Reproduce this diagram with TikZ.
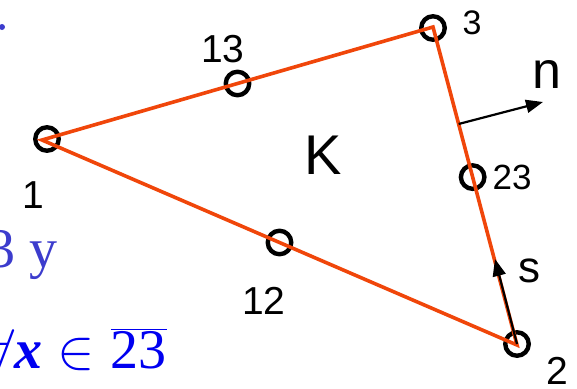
\RequirePackage{fix-cm}
\documentclass[tikz,border=0pt]{standalone}
\usepackage{fontspec}
\setmainfont{Liberation Serif}
\setsansfont{Liberation Sans}
\usetikzlibrary{arrows.meta,calc}
\definecolor{edgeorange}{RGB}{240,70,10}
\definecolor{slateblue}{RGB}{60,60,205}
\definecolor{pureblue}{RGB}{0,0,240}
\begin{document}
\begin{tikzpicture}[x=1pt,y=-1pt,
  vtx/.style={circle,draw=black,line width=4.4pt,minimum size=23.5pt,inner sep=0pt},
  edge/.style={draw=edgeorange,line width=3.6pt,line join=miter},
  vec/.style={draw=black,line width=2.2pt,-{Triangle[length=17pt,width=13pt]}},
  lbl/.style={inner sep=0pt,font=\sffamily\fontsize{39}{39}\selectfont},
]
\useasboundingbox (0,0) rectangle (577,388);
% vertices
\coordinate (p1) at (42,140);
\coordinate (p3) at (433,27);
\coordinate (p2) at (517,345);
\coordinate (p13) at ($(p1)!0.5!(p3)$);
\coordinate (p12) at ($(p1)!0.5!(p2)$);
\coordinate (p23) at ($(p3)!0.472!(p2)$);
\coordinate (nb) at ($(p3)!0.305!(p2)$);
\coordinate (ne) at (543,102);
\coordinate (se) at (495,259);
% circles
\node[vtx] (v1) at (47,139) {};
\node[vtx] (v3) at (433,28) {};
\node[vtx] (v2) at (517,344) {};
\node[vtx] (m13) at (p13) {};
\node[vtx] (m12) at (p12) {};
\node[vtx] (m23) at (p23) {};
% edges
\draw[edge] (p1) -- (p3) -- (p2) -- cycle;
% vectors
\draw[vec] (nb) -- (ne);
\draw[vec] (v2.center) -- (se);
% labels
\node[lbl] (l1) at (33,195) {1};
\node[lbl,font=\sffamily\fontsize{34}{34}\selectfont] (l3) at (472,23) {3};
\node[lbl] (l2) at (557,371) {2};
\node[lbl] (l12) at (264,301) {12};
\node[lbl] (l13) at (223,49) {13};
\node[lbl,font=\sffamily\fontsize{35}{35}\selectfont] (l23) at (512,177) {23};
\node[lbl,font=\sffamily\fontsize{56}{56}\selectfont] (lK) at (323,155) {K};
\node[lbl,font=\sffamily\fontsize{52}{52}\selectfont] (ln) at (547,75) {n};
\node[lbl,font=\sffamily\fontsize{44}{44}\selectfont] (ls) at (529,271) {s};
% left partial texts
\fill[slateblue] (2,27) circle (3pt);
\node[inner sep=0pt,anchor=base west,text=slateblue,font=\fontsize{56}{56}\selectfont] (t3y) at (-13,267) {3 y};
\node[inner sep=0pt,anchor=base east,text=pureblue,font=\fontsize{56}{56}\selectfont] (tx) at (167,368) {$\forall\mbox{\bfseries\itshape x}\in\overline{\mbox{23}}$};
\end{tikzpicture}
\end{document}
